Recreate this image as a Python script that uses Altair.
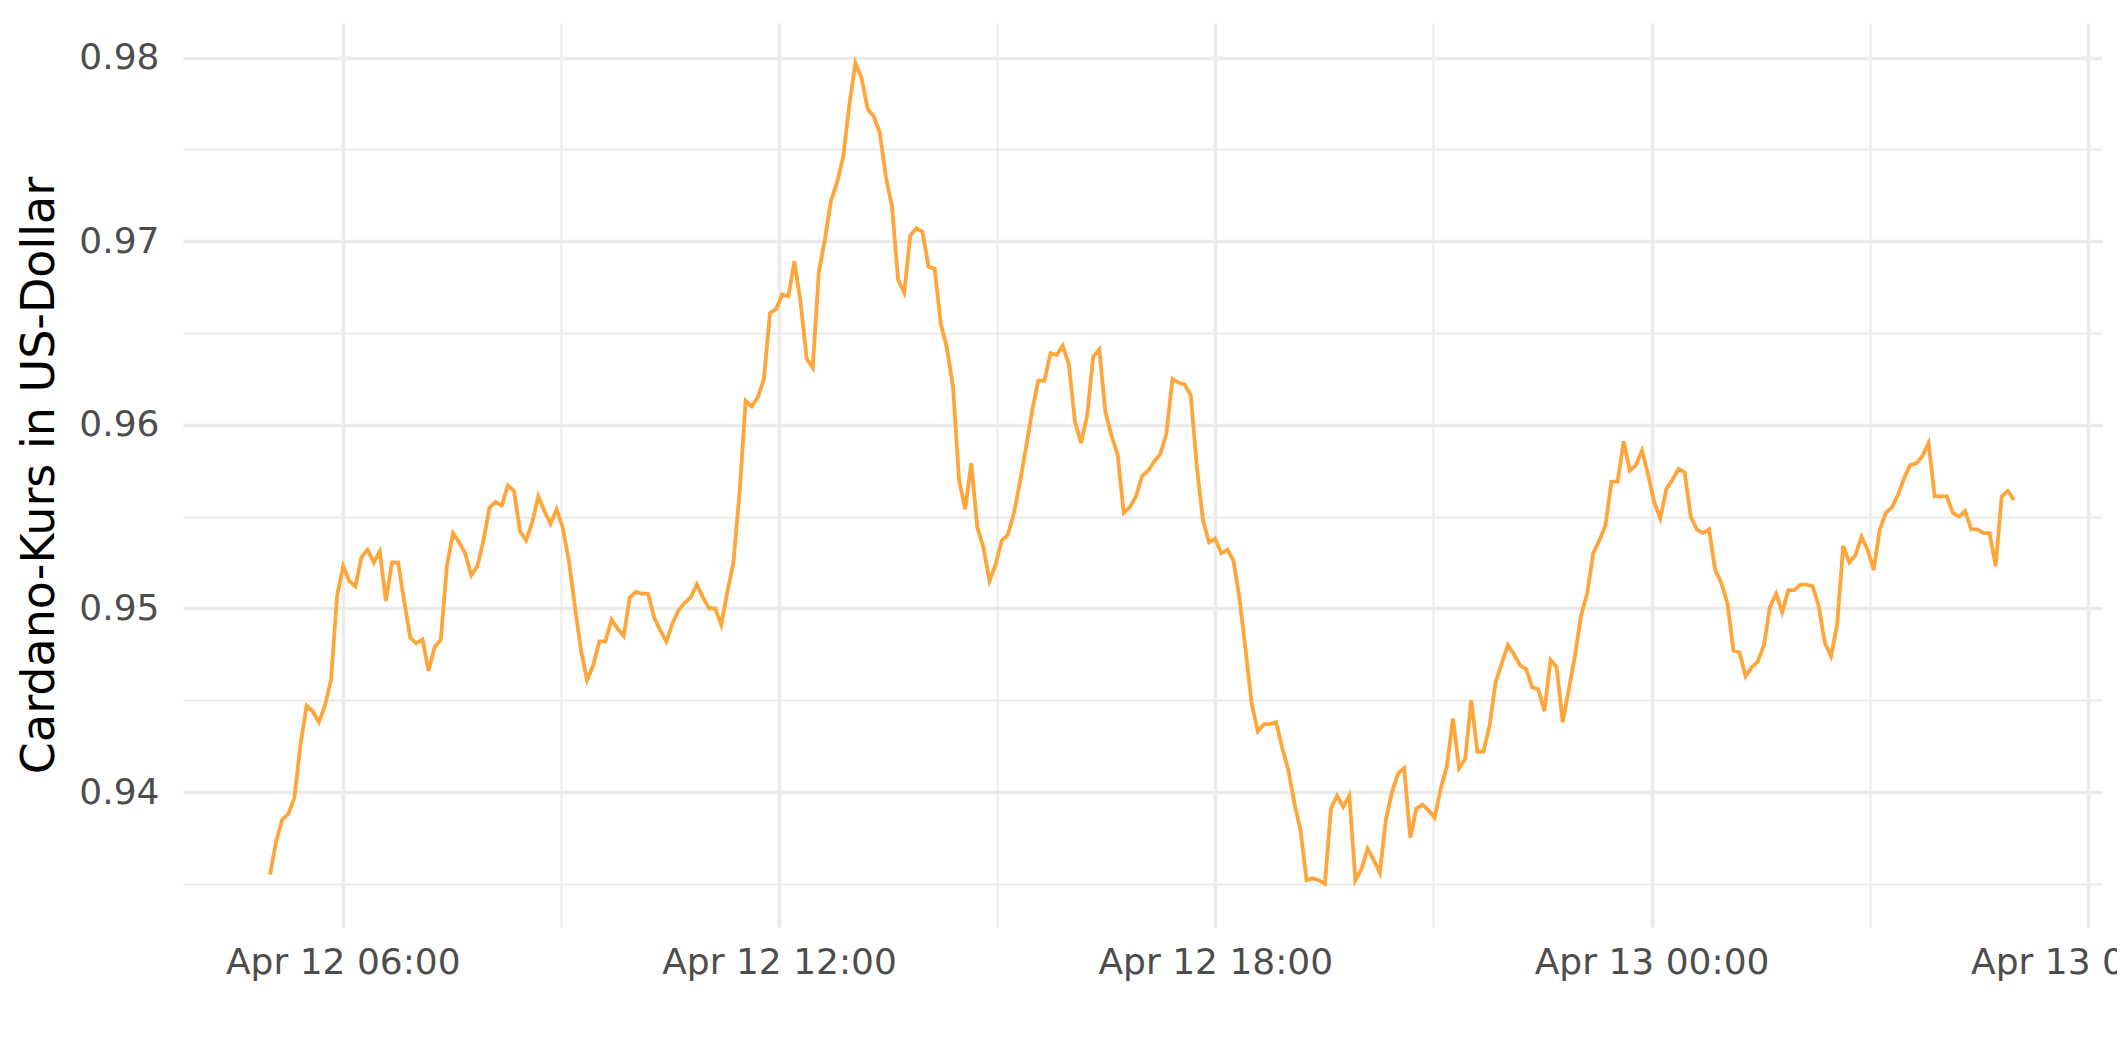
import altair as alt
import pandas as pd

# Cardano price in USD, 5-minute samples, Apr 12 05:00 -> Apr 13 ~05:00
price_a = [0.9355, 0.9373, 0.9385, 0.9388, 0.9397, 0.9426, 0.9447, 0.9444, 0.9438, 0.9447,
           0.9461, 0.9507, 0.9523, 0.9515, 0.9512, 0.9528, 0.9532, 0.9525, 0.9531, 0.9504,
           0.9525, 0.9525, 0.9504, 0.9484, 0.9481, 0.9483, 0.9466, 0.9479, 0.9483, 0.9523,
           0.9541, 0.9536, 0.9530, 0.9518, 0.9523, 0.9537, 0.9555, 0.9558, 0.9556, 0.9567,
           0.9564, 0.9542, 0.9537, 0.9547, 0.9561, 0.9553, 0.9546, 0.9554]
price_b = [0.9544, 0.9526, 0.9501, 0.9477, 0.9461, 0.9469, 0.9482, 0.9482, 0.9494, 0.9489,
           0.9485, 0.9506, 0.9509, 0.9508, 0.9508, 0.9495, 0.9488, 0.9482, 0.9492, 0.9499,
           0.9503, 0.9506, 0.9513, 0.9506, 0.9500, 0.9500, 0.9491, 0.9509, 0.9525, 0.9563,
           0.9613, 0.9610, 0.9615, 0.9625, 0.9661, 0.9663, 0.9671, 0.9670, 0.9689, 0.9667,
           0.9636, 0.9631, 0.9683, 0.9701, 0.9722, 0.9732, 0.9746, 0.9774]
price_c = [0.9797, 0.9789, 0.9772, 0.9768, 0.9759, 0.9735, 0.9719, 0.9679, 0.9672, 0.9703,
           0.9707, 0.9705, 0.9686, 0.9685, 0.9655, 0.9642, 0.9621, 0.9570, 0.9554, 0.9579,
           0.9544, 0.9533, 0.9515, 0.9524, 0.9537, 0.9540, 0.9552, 0.9569, 0.9588, 0.9608,
           0.9624, 0.9624, 0.9639, 0.9638, 0.9643, 0.9633, 0.9602, 0.9590, 0.9605, 0.9637,
           0.9641, 0.9607, 0.9594, 0.9584, 0.9552, 0.9555, 0.9561, 0.9572]
price_d = [0.9575, 0.9580, 0.9584, 0.9595, 0.9625, 0.9623, 0.9622, 0.9616, 0.9577, 0.9548,
           0.9536, 0.9538, 0.9530, 0.9532, 0.9526, 0.9505, 0.9477, 0.9448, 0.9433, 0.9437,
           0.9437, 0.9438, 0.9424, 0.9412, 0.9394, 0.9379, 0.9352, 0.9353, 0.9352, 0.9350,
           0.9391, 0.9398, 0.9392, 0.9398, 0.9352, 0.9358, 0.9369, 0.9363, 0.9356, 0.9385,
           0.9400, 0.9410, 0.9413, 0.9375, 0.9391, 0.9393, 0.9390, 0.9386]
price_e = [0.9402, 0.9414, 0.9440, 0.9413, 0.9418, 0.9450, 0.9422, 0.9422, 0.9436, 0.9460,
           0.9470, 0.9480, 0.9475, 0.9469, 0.9467, 0.9457, 0.9456, 0.9444, 0.9472, 0.9468,
           0.9438, 0.9456, 0.9474, 0.9496, 0.9508, 0.9530, 0.9537, 0.9545, 0.9569, 0.9569,
           0.9591, 0.9575, 0.9578, 0.9586, 0.9573, 0.9558, 0.9549, 0.9565, 0.9570, 0.9576,
           0.9574, 0.9550, 0.9543, 0.9541, 0.9543, 0.9521, 0.9514, 0.9503]
price_f = [0.9477, 0.9476, 0.9463, 0.9468, 0.9471, 0.9480, 0.9501, 0.9508, 0.9498, 0.9510,
           0.9510, 0.9513, 0.9513, 0.9512, 0.9501, 0.9481, 0.9474, 0.9491, 0.9534, 0.9525,
           0.9529, 0.9539, 0.9532, 0.9521, 0.9543, 0.9552, 0.9555, 0.9562, 0.9571, 0.9578,
           0.9579, 0.9583, 0.9590, 0.9561, 0.9561, 0.9561, 0.9552, 0.9550, 0.9553, 0.9543,
           0.9543, 0.9541, 0.9541, 0.9523, 0.9561, 0.9564, 0.9559]

prices = price_a + price_b + price_c + price_d + price_e + price_f
first_time = "2022-04-12 05:00"
last_time = "2022-04-13 04:59"
times = pd.date_range(first_time, last_time, periods=len(prices))

df = pd.DataFrame({
    "zeit": times.strftime("%Y-%m-%dT%H:%M:%SZ"),
    "kurs": prices,
})

def ms(s):
    return int(pd.Timestamp(s).value // 10**6)

x_domain = [ms("2022-04-12 03:48:10"), ms("2022-04-13 06:11:40")]
x_ticks = [ms(t) for t in pd.date_range("2022-04-12 06:00", "2022-04-13 06:00", freq="3h")]
y_domain = [0.93265, 0.98188]
y_ticks = [0.935, 0.94, 0.945, 0.95, 0.955, 0.96, 0.965, 0.97, 0.975, 0.98]

FONT = "DejaVu Sans"
GRID = "#EBEBEB"

x_major = "utchours(datum.value) % 6 == 0"
y_major = "abs(datum.value*100 - round(datum.value*100)) < 0.001"

x_axis = alt.Axis(
    values=x_ticks,
    labelExpr=f"{x_major} ? utcFormat(datum.value, '%b %d %H:%M') : ''",
    grid=True, gridColor=GRID,
    gridWidth={"condition": {"test": x_major, "value": 3.6}, "value": 1.8},
    ticks=False, domain=False,
    labelFont=FONT, labelFontSize=36, labelColor="#4D4D4D",
    labelPadding=18, labelOverlap=False, labelFlush=False, labelLimit=1000,
    title=None,
)
y_axis = alt.Axis(
    values=y_ticks,
    labelExpr=f"{y_major} ? format(datum.value, '.2f') : ''",
    grid=True, gridColor=GRID,
    gridWidth={"condition": {"test": y_major, "value": 3.6}, "value": 1.8},
    ticks=False, domain=False,
    labelFont=FONT, labelFontSize=36, labelColor="#4D4D4D",
    labelPadding=24, labelOverlap=False, labelFlush=False, labelLimit=1000,
    title="Cardano-Kurs in US-Dollar",
    titleFont=FONT, titleFontSize=46, titleFontWeight="normal", titleColor="#000000",
    titleAngle=270, titleAlign="center", titleBaseline="alphabetic",
    titleX=-130, titleY=452, titleLimit=2000,
)

chart = alt.Chart(df).mark_line(color="#FFA53A", strokeWidth=3.8).encode(
    x=alt.X("zeit:T", scale=alt.Scale(type="utc", domain=x_domain), axis=x_axis),
    y=alt.Y("kurs:Q", scale=alt.Scale(domain=y_domain, zero=False, nice=False), axis=y_axis),
).properties(
    width=1919,
    height=904,
    autosize=alt.AutoSizeParams(type="none"),
    padding={"left": 175, "top": 15, "right": 15, "bottom": 80},
    background="#FFFFFF",
).configure_view(stroke=None)

chart.save("out.html", embed_options={"renderer": "svg", "actions": False})
